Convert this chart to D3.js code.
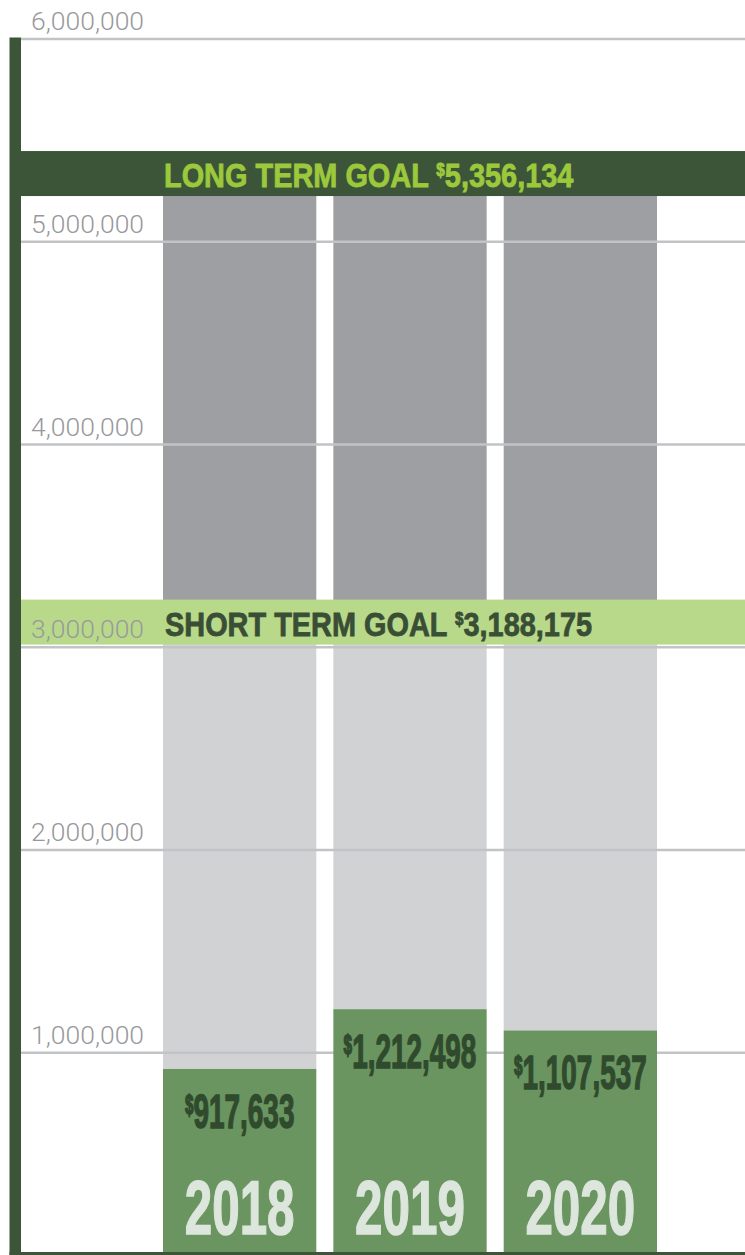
<!DOCTYPE html>
<html lang="en">
<head>
<meta charset="utf-8">
<title>Campaign Goals</title>
<script src="https://cdn.jsdelivr.net/npm/d3@7"></script>
<style>
  body { margin: 0; background: #fff; }
  svg { display: block; }
</style>
</head>
<body>
<script>
// values
let years = ["2018", "2019", "2020"];
let raised = [917633, 1212498, 1107537];
let goalNames = ["LONG TERM GOAL", "SHORT TERM GOAL"];
let goalValues = [5356134, 3188175];
let tickValues = [1000000, 2000000, 3000000, 4000000, 5000000, 6000000];

let w = 745, h = 1255;
let axisX = 21;
let fmt = d3.format(",");

let svg = d3.select("body").append("svg")
  .attr("width", w)
  .attr("height", h);

let y = d3.scaleLinear().domain([0, 6000000]).range([1255, 38.5]);
let x = d3.scaleBand().domain(years).range([163, 657]).paddingInner(0.1);

let longGoal = goalValues[0], shortGoal = goalValues[1];

// dark grey: between the two goals
svg.selectAll("rect.long")
  .data(years)
  .enter().append("rect")
  .attr("class", "long")
  .attr("x", d => x(d))
  .attr("width", x.bandwidth())
  .attr("y", y(longGoal))
  .attr("height", y(shortGoal) - y(longGoal))
  .attr("fill", "#9e9fa3");

// light grey: from raised up to the short term goal
svg.selectAll("rect.short")
  .data(raised)
  .enter().append("rect")
  .attr("class", "short")
  .attr("x", (d, i) => x(years[i]))
  .attr("width", x.bandwidth())
  .attr("y", y(shortGoal))
  .attr("height", d => y(d) - y(shortGoal))
  .attr("fill", "#d1d2d4");

// grid lines
let grid = svg.append("g")
  .attr("transform", "translate(" + axisX + ",0)")
  .call(d3.axisLeft(y).tickValues(tickValues).tickSize(-(w - axisX)).tickFormat(""));
grid.select(".domain").remove();
grid.selectAll(".tick line")
  .attr("stroke", "#c2c3c6")
  .attr("stroke-width", 2.5);

// raised so far
svg.selectAll("rect.raised")
  .data(raised)
  .enter().append("rect")
  .attr("class", "raised")
  .attr("x", (d, i) => x(years[i]))
  .attr("width", x.bandwidth())
  .attr("y", d => y(d))
  .attr("height", d => y(0) - y(d))
  .attr("fill", "#6a9460");

// goal bands
let bandTop = [18, 9];
let bandFill = ["#3c5538", "#b8d98a"];
let bandText = ["#9cc93c", "#394e35"];
let bands = svg.selectAll("g.band")
  .data(goalValues)
  .enter().append("g")
  .attr("class", "band");

bands.append("rect")
  .attr("x", axisX)
  .attr("width", w - axisX)
  .attr("y", (d, i) => y(d) - bandTop[i])
  .attr("height", 45)
  .attr("fill", (d, i) => bandFill[i]);

let goalLabel = bands.append("text")
  .attr("transform", (d, i) => "translate(" + (x.range()[0] + 1 + i) + "," + (y(d) - bandTop[i] + 36) + ") scale(0.85,1)")
  .attr("font-family", "'Liberation Sans', Arial, sans-serif")
  .attr("font-weight", "bold")
  .attr("font-size", 34)
  .attr("fill", (d, i) => bandText[i])
  .attr("stroke", (d, i) => bandText[i])
  .attr("stroke-width", 0.8);
goalLabel.append("tspan").text((d, i) => goalNames[i] + " ");
goalLabel.append("tspan").attr("font-size", 18).attr("dy", -11).text("$");
goalLabel.append("tspan").attr("dy", 11).text(d => fmt(d));

// left axis bar and baseline
svg.append("rect")
  .attr("x", 9.5).attr("width", axisX - 9.5)
  .attr("y", y(6000000) - 1).attr("height", h - y(6000000) + 1)
  .attr("fill", "#3c5538");
svg.append("rect")
  .attr("x", 9.5).attr("width", w - 9.5)
  .attr("y", 1252).attr("height", 3)
  .attr("fill", "#3c5538");

// tick labels
let labels = svg.append("g")
  .attr("transform", "translate(" + axisX + ",0)")
  .call(d3.axisLeft(y).tickValues(tickValues).tickSize(0).tickFormat(fmt));
labels.select(".domain").remove();
labels.selectAll(".tick text")
  .attr("x", 10)
  .attr("dy", -9)
  .attr("text-anchor", "start")
  .attr("font-family", "Roboto, 'Liberation Sans', sans-serif")
  .attr("font-weight", 300)
  .attr("font-size", 26.5)
  .attr("fill", "#98999c");

// value labels
let valueLabel = svg.selectAll("text.value")
  .data(raised)
  .enter().append("text")
  .attr("class", "value")
  .attr("transform", (d, i) => "translate(" + (x(years[i]) + x.bandwidth() / 2) + "," + (y(d) + 59) + ") scale(0.57,1)")
  .attr("text-anchor", "middle")
  .attr("font-family", "'Liberation Sans', Arial, sans-serif")
  .attr("font-weight", "bold")
  .attr("font-size", 49)
  .attr("fill", "#2f4a2d")
  .attr("stroke", "#2f4a2d")
  .attr("stroke-width", 1.4);
valueLabel.append("tspan").attr("font-size", 27).attr("dy", -14).text("$");
valueLabel.append("tspan").attr("dy", 14).text(d => fmt(d));

// year labels
svg.selectAll("text.year")
  .data(years)
  .enter().append("text")
  .attr("class", "year")
  .attr("transform", d => "translate(" + (x(d) + x.bandwidth() / 2) + "," + (y(0) - 21) + ") scale(0.65,1)")
  .attr("text-anchor", "middle")
  .attr("font-family", "'Liberation Sans', Arial, sans-serif")
  .attr("font-weight", "bold")
  .attr("font-size", 76)
  .attr("fill", "#dce6dc")
  .attr("stroke", "#dce6dc")
  .attr("stroke-width", 1.5)
  .text(d => d);
</script>
</body>
</html>
